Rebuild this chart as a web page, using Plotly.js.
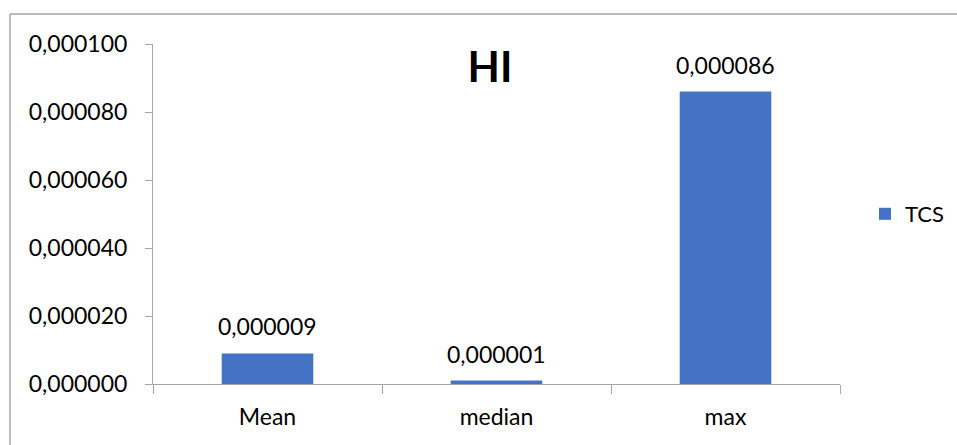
<!DOCTYPE html>
<html>
<head>
<meta charset="utf-8">
<script src="https://cdn.plot.ly/plotly-3.0.1.min.js"></script>
<style>
  html, body { margin: 0; padding: 0; background: #fff; }
  #chart { width: 957px; height: 445px; }
</style>
</head>
<body>
<div id="chart"></div>
<script>
// HI statistics for TCS
const categories = ['Mean', 'median', 'max'];
const seriesName = 'TCS';
const values = [0.000009, 0.000001, 0.000086];
const yTickValues = [0, 0.00002, 0.00004, 0.00006, 0.00008, 0.0001];

const fmt = v => v.toFixed(6).replace('.', ',');

const FONT = 'Lato, "Open Sans", sans-serif';
const AXIS_GREY = '#a6a6a6';

// plot area in pixels: left 153, right 840, top 44, bottom 384
const W = 957, H = 445;
const L = 153, R = 840, T = 44, B = 384;
const pw = R - L, ph = B - T;
const px = x => (x - L) / pw;
const py = y => (B - y) / ph;

const trace = {
  type: 'bar',
  name: seriesName,
  x: categories,
  y: values,
  marker: { color: '#4472C4' },
  width: 0.4,
  hoverinfo: 'x+y'
};

const labels = categories.map((c, i) => ({
  x: c, y: values[i], xref: 'x', yref: 'y',
  text: fmt(values[i]), showarrow: false,
  yanchor: 'bottom', yshift: 11,
  font: { family: FONT, size: 23, color: '#000' }
}));

const layout = {
  width: W, height: H,
  margin: { l: L, r: W - R, t: T, b: H - B, pad: 0, autoexpand: false },
  paper_bgcolor: '#fff',
  plot_bgcolor: '#fff',
  font: { family: FONT, size: 23, color: '#000' },
  title: {
    text: '<b>HI</b>',
    font: { family: FONT, size: 42, color: '#000' },
    x: 490 / W, xref: 'container', xanchor: 'center',
    y: 1 - 67 / H, yref: 'container', yanchor: 'middle'
  },
  showlegend: true,
  legend: {
    x: px(865), y: 0.5, xanchor: 'left', yanchor: 'middle',
    font: { family: FONT, size: 22, color: '#000' },
    itemwidth: 30,
    bgcolor: 'rgba(0,0,0,0)'
  },
  xaxis: {
    type: 'category',
    range: [-0.5, 2.5],
    showline: true, linecolor: AXIS_GREY, linewidth: 1,
    ticks: 'outside', tickson: 'boundaries', ticklen: 9, tickcolor: AXIS_GREY,
    ticklabelstandoff: 12,
    showgrid: false, zeroline: false,
    tickfont: { family: FONT, size: 23, color: '#000' },
    fixedrange: true
  },
  yaxis: {
    range: [0, 0.0001],
    tickvals: yTickValues,
    ticktext: yTickValues.map(fmt),
    showline: true, linecolor: AXIS_GREY, linewidth: 1,
    ticks: 'outside', ticklen: 7, tickcolor: AXIS_GREY,
    ticklabelstandoff: 13,
    showgrid: false, zeroline: false,
    tickfont: { family: FONT, size: 23, color: '#000' },
    fixedrange: true
  },
  annotations: labels,
  shapes: [
    // chart frame (top and left edges)
    { type: 'line', xref: 'paper', yref: 'paper',
      x0: px(10), x1: px(W + 5), y0: py(14), y1: py(14),
      line: { color: AXIS_GREY, width: 1.5 } },
    { type: 'line', xref: 'paper', yref: 'paper',
      x0: px(10), x1: px(10), y0: py(14), y1: py(H + 5),
      line: { color: AXIS_GREY, width: 1.5 } }
  ]
};

Plotly.newPlot('chart', [trace], layout, { displayModeBar: false, staticPlot: true });
</script>
</body>
</html>
